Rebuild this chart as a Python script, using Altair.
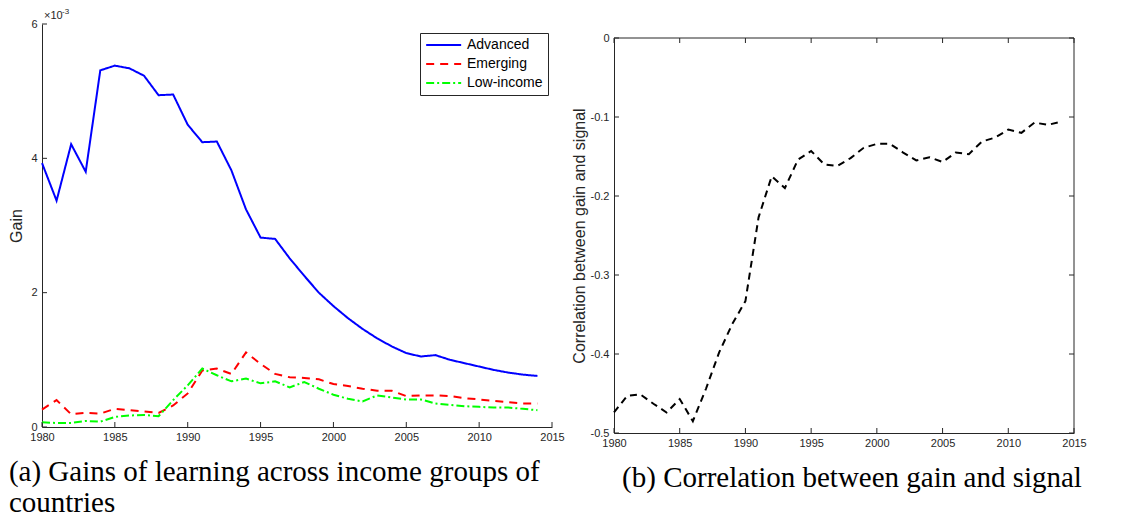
import altair as alt
import pandas as pd

# Data
years = list(range(1980, 2015))
groups = ["Advanced", "Emerging", "Low-income"]

# gains in units of 1e-3
advanced = [3.93, 3.37, 4.21, 3.80, 5.31, 5.38, 5.34, 5.23, 4.94, 4.95,
            4.50, 4.24, 4.25, 3.82, 3.24, 2.82, 2.80, 2.51, 2.25, 2.00,
            1.80, 1.62, 1.46, 1.32, 1.20, 1.10, 1.05, 1.07, 1.00, 0.95,
            0.90, 0.85, 0.81, 0.78, 0.76]
emerging = [0.26, 0.40, 0.19, 0.21, 0.20, 0.27, 0.25, 0.23, 0.21, 0.32,
            0.50, 0.84, 0.87, 0.79, 1.11, 0.94, 0.79, 0.74, 0.73, 0.71,
            0.64, 0.61, 0.57, 0.54, 0.54, 0.46, 0.47, 0.47, 0.46, 0.43,
            0.41, 0.39, 0.37, 0.35, 0.35]
low_income = [0.07, 0.06, 0.06, 0.09, 0.08, 0.15, 0.17, 0.18, 0.16, 0.40,
              0.62, 0.87, 0.77, 0.68, 0.72, 0.65, 0.68, 0.59, 0.67, 0.57,
              0.48, 0.42, 0.38, 0.47, 0.44, 0.41, 0.41, 0.35, 0.33, 0.31,
              0.30, 0.29, 0.29, 0.27, 0.25]
correlation = [-0.474, -0.453, -0.451, -0.463, -0.474, -0.457, -0.485, -0.444, -0.398, -0.362,
               -0.333, -0.227, -0.175, -0.190, -0.154, -0.143, -0.160, -0.162, -0.152, -0.139,
               -0.134, -0.134, -0.145, -0.155, -0.151, -0.157, -0.145, -0.147, -0.131, -0.126,
               -0.116, -0.120, -0.107, -0.110, -0.106]

year_ticks = [1980, 1985, 1990, 1995, 2000, 2005, 2010, 2015]
gain_ticks = [0, 0.002, 0.004, 0.006]
corr_ticks = [-0.5, -0.4, -0.3, -0.2, -0.1, 0]

AXIS_COLOR = "#262626"
W1, H1 = 510, 403
W2, H2 = 460, 409   # panel (b) plot is drawn in the lower part of this box
TOP2 = 14           # offset of panel (b) frame below panel (a) top
TICK = 5
CAPTION_FONT = "Liberation Serif"

gain_df = pd.DataFrame({
    "year": years * 3,
    "gain": [v / 1000 for v in advanced + emerging + low_income],
    "group": [g for g in groups for _ in years],
})
corr_df = pd.DataFrame({"year": years, "corr": correlation})
xt_df = pd.DataFrame({"year": year_ticks})
gt_df = pd.DataFrame({"gain": gain_ticks})
ct_df = pd.DataFrame({"corr": corr_ticks})

x_axis = alt.Axis(values=year_ticks, format="d", title=None, labelPadding=4, labelFlush=False)
x_scale = alt.Scale(domain=[1980, 2015], nice=False, zero=False)

legend = alt.Legend(
    title=None, orient="none", legendX=378, legendY=9,
    strokeColor=AXIS_COLOR, fillColor="white", padding=5,
    symbolType="M-1,0H5", symbolSize=136, symbolStrokeWidth=2,
    labelFontSize=14, labelColor="black", labelOffset=28, rowPadding=5,
)

# ---- panel (a)
lines = alt.Chart(gain_df).mark_line(strokeWidth=2).encode(
    x=alt.X("year:Q", scale=x_scale, axis=x_axis),
    y=alt.Y(
        "gain:Q",
        scale=alt.Scale(domain=[0, 0.006], nice=False),
        axis=alt.Axis(values=gain_ticks, labelExpr="format(datum.value * 1000, 'd')",
                      title="Gain", titlePadding=6, labelPadding=5),
    ),
    color=alt.Color("group:N", scale=alt.Scale(domain=groups, range=["#0000ff", "#ff0000", "#00ff00"]),
                    legend=legend),
    strokeDash=alt.StrokeDash("group:N", scale=alt.Scale(domain=groups, range=[[1, 0], [8, 6], [8, 3, 2, 3]]),
                              legend=legend),
)
a_xticks = alt.Chart(xt_df).mark_rule(color=AXIS_COLOR).encode(
    x="year:Q", y=alt.value(H1), y2=alt.value(H1 - TICK))
a_yticks = alt.Chart(gt_df).mark_rule(color=AXIS_COLOR).encode(
    y="gain:Q", x=alt.value(0), x2=alt.value(TICK))
exp_base = alt.Chart(pd.DataFrame({"t": ["×10"]})).mark_text(
    align="left", baseline="alphabetic", fontSize=11, color=AXIS_COLOR).encode(
    text="t:N", x=alt.value(2), y=alt.value(-5))
exp_sup = alt.Chart(pd.DataFrame({"t": ["-3"]})).mark_text(
    align="left", baseline="alphabetic", fontSize=8, color=AXIS_COLOR).encode(
    text="t:N", x=alt.value(20), y=alt.value(-10))

panel_a = alt.layer(lines, a_xticks, a_yticks, exp_base, exp_sup).properties(
    width=W1, height=H1,
    view=alt.ViewBackground(strokeOpacity=0),
    title=alt.TitleParams(
        text=["(a) Gains of learning across income groups of", "countries"],
        orient="bottom", anchor="start", font=CAPTION_FONT, fontSize=29,
        fontWeight="normal", color="black", lineHeight=31, offset=16,
    ),
)

# ---- panel (b)
corr_line = alt.Chart(corr_df).mark_line(color="black", strokeWidth=2, strokeDash=[7, 5]).encode(
    x=alt.X("year:Q", scale=x_scale, axis=x_axis),
    y=alt.Y(
        "corr:Q",
        scale=alt.Scale(domain=[-0.5, 0], nice=False, range=[H2, TOP2]),
        axis=alt.Axis(values=corr_ticks,
                      labelExpr="datum.value < 0 ? '-' + format(-datum.value, '.1f') : '0'",
                      title="Correlation between gain and signal", titlePadding=3, labelPadding=5),
    ),
)
b_bot = alt.Chart(xt_df).mark_rule(color=AXIS_COLOR).encode(
    x="year:Q", y=alt.value(H2), y2=alt.value(H2 - TICK))
b_top = alt.Chart(xt_df).mark_rule(color=AXIS_COLOR).encode(
    x="year:Q", y=alt.value(TOP2), y2=alt.value(TOP2 + TICK))
b_left = alt.Chart(ct_df).mark_rule(color=AXIS_COLOR).encode(
    y="corr:Q", x=alt.value(0), x2=alt.value(TICK))
b_right = alt.Chart(ct_df).mark_rule(color=AXIS_COLOR).encode(
    y="corr:Q", x=alt.value(W2), x2=alt.value(W2 - TICK))
# frame: top and right edges
b_frame_top = alt.Chart(pd.DataFrame({"corr": [0]})).mark_rule(color=AXIS_COLOR).encode(
    y="corr:Q", x=alt.value(0), x2=alt.value(W2))
b_frame_right = alt.Chart(pd.DataFrame({"year": [2015]})).mark_rule(color=AXIS_COLOR).encode(
    x="year:Q", y=alt.value(TOP2), y2=alt.value(H2))

panel_b = alt.layer(corr_line, b_bot, b_top, b_left, b_right, b_frame_top, b_frame_right).properties(
    width=W2, height=H2,
    view=alt.ViewBackground(strokeOpacity=0),
    title=alt.TitleParams(
        text="(b) Correlation between gain and signal",
        orient="bottom", anchor="middle", frame="group", font=CAPTION_FONT, fontSize=29,
        fontWeight="normal", color="black", offset=16, dx=8,
    ),
)

chart = alt.hconcat(panel_a, panel_b, spacing=6).properties(
    padding=0,
).configure(
    font="Liberation Sans",
).configure_axis(
    labelFont="Liberation Sans", labelFontSize=11, labelColor=AXIS_COLOR,
    titleFont="Liberation Sans", titleFontSize=16, titleFontWeight="normal", titleColor=AXIS_COLOR,
    domainColor=AXIS_COLOR, domainWidth=1, ticks=False, grid=False,
).configure_legend(
    labelFont="Liberation Sans",
)

chart.save("out.html", embed_options={"renderer": "svg", "actions": False})
